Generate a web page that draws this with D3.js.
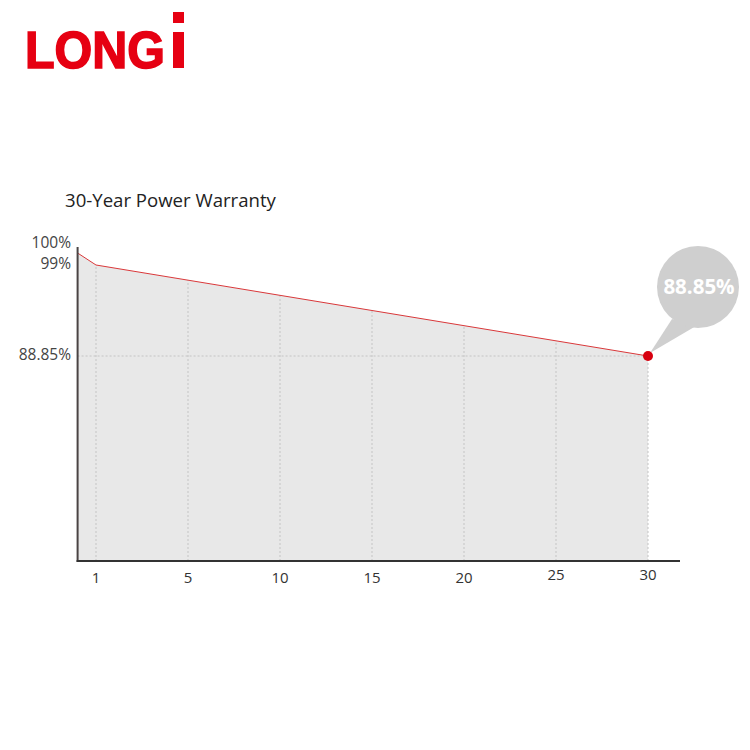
<!DOCTYPE html>
<html><head><meta charset="utf-8">
<script src="https://cdn.jsdelivr.net/npm/d3@7"></script>
<style>body{margin:0;background:#fff}</style>
</head><body>
<svg id="c" width="750" height="750"></svg>
<script>
const years = [0, 1, 30];
const power = [100, 99, 88.85];
const xTicks = [1, 5, 10, 15, 20, 25, 30];
const yTicks = [100, 99, 88.85];
const yTickLabels = ["100%", "99%", "88.85%"];
const title = "30-Year Power Warranty";
const calloutLabel = "88.85%";

const svg = d3.select("#c");
const red = "#e60012";

// Logo
svg.append("text").attr("x", 25).attr("y", 68)
  .attr("font-family", "Liberation Sans, Arial, sans-serif").attr("font-weight", 700)
  .attr("font-size", 52).attr("fill", red).attr("stroke", red).attr("stroke-width", 1.6)
  .attr("textLength", 140).attr("lengthAdjust", "spacingAndGlyphs").text("LONG");
svg.append("rect").attr("x", 173).attr("y", 32).attr("width", 11).attr("height", 36).attr("fill", red);
svg.append("rect").attr("x", 173).attr("y", 12).attr("width", 11).attr("height", 11).attr("fill", red);

// Title
svg.append("text").attr("x", 65).attr("y", 207)
  .attr("font-family", "Open Sans, sans-serif").attr("font-size", 18.6).attr("fill", "#222")
  .text(title);

// x positions: tick categories are evenly spaced
const x = d3.scaleLinear().domain([0, 1, 5, 30]).range([77.6, 96, 188, 648]);
const y = d3.scaleLinear().domain([80, 88.85, 99, 100]).range([561, 356, 265, 253]);

const pts = years.map((d, i) => ({yr: d, v: power[i]}));

// pixel-space height of the line at a given x pixel
const lineYAt = px => {
  for (let i = 1; i < pts.length; i++) {
    const x0 = x(pts[i-1].yr), x1 = x(pts[i].yr);
    if (px <= x1 + 0.01) {
      const t = (px - x0) / (x1 - x0);
      return y(pts[i-1].v) + t * (y(pts[i].v) - y(pts[i-1].v));
    }
  }
  return y(pts[pts.length-1].v);
};

// fill area
svg.append("path").datum(pts)
  .attr("d", d3.area().x(d => x(d.yr)).y0(y(80)).y1(d => y(d.v)))
  .attr("fill", "#e8e8e8");

// vertical dotted gridlines
svg.selectAll(".vg").data(xTicks).enter().append("line")
  .attr("x1", d => x(d)).attr("x2", d => x(d))
  .attr("y1", y(80)).attr("y2", d => lineYAt(x(d)))
  .attr("stroke", "#c4c4c4").attr("stroke-width", 1).attr("stroke-dasharray", "2,2");
// horizontal dotted at 88.85
svg.append("line").attr("x1", x(0)).attr("x2", x(30))
  .attr("y1", y(88.85)).attr("y2", y(88.85))
  .attr("stroke", "#c4c4c4").attr("stroke-width", 1).attr("stroke-dasharray", "2,2");

// line
svg.append("path").datum(pts)
  .attr("d", d3.line().x(d => x(d.yr)).y(d => y(d.v)))
  .attr("fill", "none").attr("stroke", "#d9383a").attr("stroke-width", 1);

// axes
svg.append("line").attr("x1", x(0)).attr("x2", x(0)).attr("y1", 247).attr("y2", y(80) + 1)
  .attr("stroke", "#4a4444").attr("stroke-width", 2);
svg.append("line").attr("x1", x(0) - 1).attr("x2", 680).attr("y1", y(80)).attr("y2", y(80))
  .attr("stroke", "#333").attr("stroke-width", 2);

// x tick labels
svg.selectAll(".xl").data(xTicks).enter().append("text")
  .attr("x", d => x(d)).attr("y", d => d >= 25 ? 580 : 583)
  .attr("text-anchor", "middle").attr("font-family", "Open Sans, sans-serif")
  .attr("font-size", 15).attr("fill", "#333").text(d => d);

// y tick labels
svg.selectAll(".yl").data(yTicks).enter().append("text")
  .attr("x", 71).attr("y", (d, i) => y(d) + (i === 0 ? -5 : 4))
  .attr("text-anchor", "end").attr("font-family", "Open Sans, sans-serif")
  .attr("font-size", 15.5).attr("fill", "#444").text((d, i) => yTickLabels[i]);

// callout bubble
const last = pts[pts.length - 1];
const px = x(last.yr), py = y(last.v);
const cx = 698, cy = 287, r = 41;
svg.append("path")
  .attr("d", `M${px+2},${py-3} L${cx-26},${cy+32} L${cx-2},${cy+39} Z`)
  .attr("fill", "#cfcfcf");
svg.append("circle").attr("cx", cx).attr("cy", cy).attr("r", r).attr("fill", "#cfcfcf");
svg.append("text").attr("x", cx + 1).attr("y", cy + 7).attr("text-anchor", "middle")
  .attr("font-family", "Open Sans, sans-serif").attr("font-weight", 700)
  .attr("font-size", 20.5).attr("fill", "#fff").text(calloutLabel);

// dot
svg.append("circle").attr("cx", px).attr("cy", py).attr("r", 5).attr("fill", "#d7000f");
</script>
</body></html>
